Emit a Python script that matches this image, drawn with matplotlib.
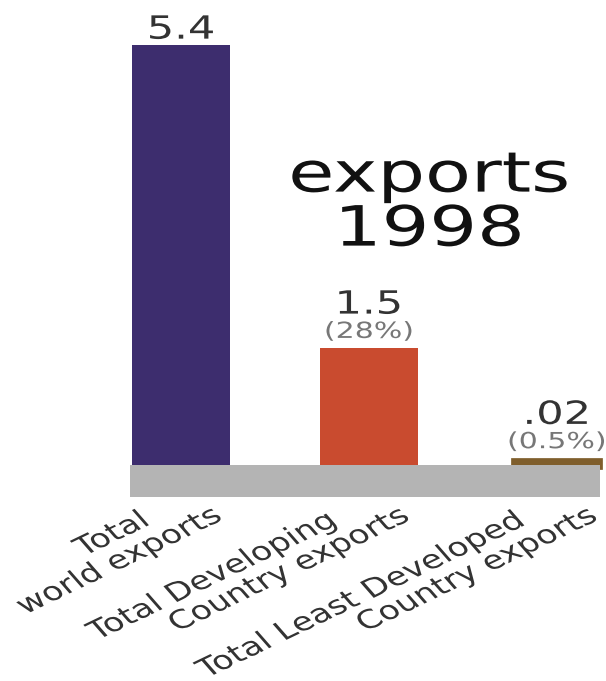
import matplotlib
matplotlib.use("Agg")
import matplotlib.pyplot as plt
from matplotlib.patheffects import AbstractPathEffect
from matplotlib.transforms import Affine2D

categories = ["Total\nworld exports",
              "Total Developing\nCountry exports",
              "Total Least Developed\nCountry exports"]
values = [5.4, 1.5, 0.02]
value_labels = ["5.4", "1.5", ".02"]
share_labels = [None, "(28%)", "(0.5%)"]
colors = ["#3d2d6e", "#c94b2f", "#7f5e2c"]

STRETCH = 1.35  # wide lettering: glyphs are widened about their anchor


class HStretch(AbstractPathEffect):
    """Draw text glyphs widened horizontally about the text's anchor."""

    def __init__(self, text, sx):
        super().__init__()
        self.text = text
        self.sx = sx

    def draw_path(self, renderer, gc, tpath, affine, rgbFace=None):
        x0 = self.text.get_transform().transform(self.text.get_position())[0]
        wide = Affine2D().translate(-x0, 0).scale(self.sx, 1).translate(x0, 0)
        renderer.draw_path(gc, tpath, affine + wide, rgbFace)


def widen(t):
    t.set_path_effects([HStretch(t, STRETCH)])
    return t


fig = plt.figure(figsize=(6.06, 6.81), dpi=100)
ax = fig.add_axes([0, 0, 1, 1])
ax.set_xlim(-0.963, 2.261)
ax.set_ylim(-2.776, 5.977)
ax.axis("off")

x = list(range(len(values)))
widths = [0.52, 0.52, 0.44]
bars = ax.bar(x, values, width=widths, color=colors, zorder=2)
# the smallest bar would vanish at this scale, so give it a thick edge
edge_lw = [0, 0, 7]
for b, lw, c in zip(bars, edge_lw, colors):
    if lw:
        b.set_edgecolor(c)
        b.set_linewidth(lw)

# grey floor under the bars
base = 0.41
ax.fill_between([-0.271, 2.229], -base, 0, color="#b4b4b4", lw=0, zorder=3)

text_col = "#333333"
for i, v in enumerate(values):
    pad = edge_lw[i] / 2
    if share_labels[i]:
        widen(ax.annotate(share_labels[i], (i, v), xytext=(0, 7.5 + pad),
                          textcoords="offset points", ha="center",
                          va="baseline", fontsize=16, color="#777777"))
        widen(ax.annotate(value_labels[i], (i, v), xytext=(0, 25 + pad),
                          textcoords="offset points", ha="center",
                          va="baseline", fontsize=23, color=text_col))
    else:
        widen(ax.annotate(value_labels[i], (i, v), xytext=(0, 4.5 + pad),
                          textcoords="offset points", ha="center",
                          va="baseline", fontsize=23, color=text_col))

# slanted two-line category labels under the floor
for i, lab in enumerate(categories):
    first, second = lab.split("\n")
    widen(ax.text(i + 0.155, -0.475, second, rotation=33,
                  rotation_mode="anchor", ha="right", va="top",
                  fontsize=18.5, color=text_col))
    widen(ax.text(i + 0.155 - 0.388, -0.475 - 0.064, first, rotation=33,
                  rotation_mode="anchor", ha="right", va="top",
                  fontsize=18.5, color=text_col))

widen(ax.text(1.32, 3.36, "exports\n1998", ha="center", va="center",
              fontsize=40, color="#111111", linespacing=1.0))

fig.savefig("out.png", dpi=100)
